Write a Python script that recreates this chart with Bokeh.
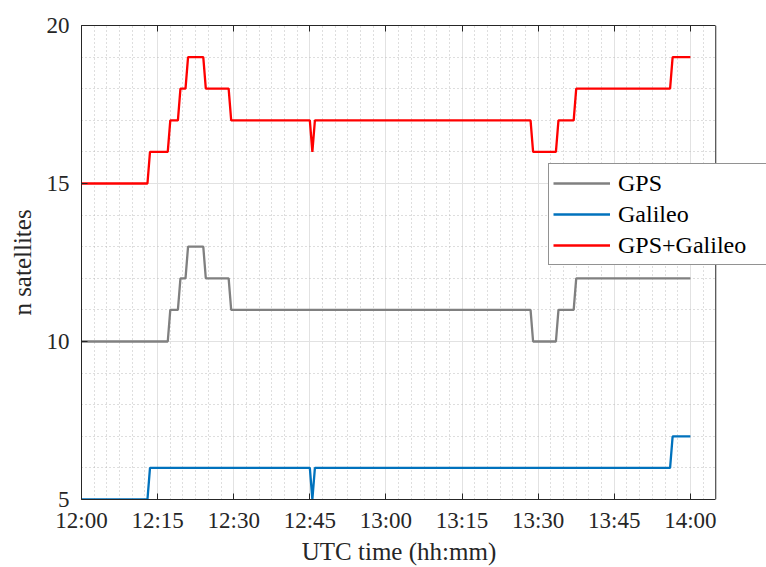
import numpy as np
from bokeh.plotting import figure
from bokeh.models import (Range1d, FixedTicker, LinearAxis, Legend,
                          LegendItem, Span, BoxAnnotation)
from bokeh.embed import file_html
from bokeh.resources import INLINE

# ---- data: time in minutes after 12:00 UTC, number of satellites ----
gps_t = [0, 17.0, 17.5, 19.0, 19.5, 20.5, 21.0, 24.0, 24.5, 29.0, 29.5,
         88.5, 89.0, 93.5, 94.0, 97.0, 97.5, 120]
gps_n = [10, 10, 11, 11, 12, 12, 13, 13, 12, 12, 11,
         11, 10, 10, 11, 11, 12, 12]

gal_t = [0, 13.0, 13.5, 45.0, 45.5, 46.0, 116.0, 116.5, 120]
gal_n = [5, 5, 6, 6, 5, 6, 6, 7, 7]

comb_t = [0, 13.0, 13.5, 17.0, 17.5, 19.0, 19.5, 20.5, 21.0, 24.0, 24.5,
          29.0, 29.5, 45.0, 45.5, 46.0, 88.5, 89.0, 93.5, 94.0, 97.0, 97.5,
          116.0, 116.5, 120]
comb_n = [15, 15, 16, 16, 17, 17, 18, 18, 19, 19, 18,
          18, 17, 17, 16, 17, 17, 16, 16, 17, 17, 18,
          18, 19, 19]

series_names = ["GPS", "Galileo", "GPS+Galileo"]

x_major = [0, 15, 30, 45, 60, 75, 90, 105, 120]
x_labels = ["12:00", "12:15", "12:30", "12:45", "13:00", "13:15", "13:30",
            "13:45", "14:00"]
x_minor = [2.5, 5, 7.5, 10, 12.5, 17.5, 20, 22.5, 25, 27.5, 32.5, 35, 37.5,
           40, 42.5, 47.5, 50, 52.5, 55, 57.5, 62.5, 65, 67.5, 70, 72.5,
           77.5, 80, 82.5, 85, 87.5, 92.5, 95, 97.5, 100, 102.5, 107.5, 110,
           112.5, 115, 117.5, 122.5]
y_major = [5, 10, 15, 20]
y_minor = [6, 7, 8, 9, 11, 12, 13, 14, 16, 17, 18, 19]

x_title = "UTC time (hh:mm)"
y_title = "n satellites"

x_axis_end = 125      # right edge of the axes box (minutes)
x_view_end = 135      # canvas extends past the box so the legend can overhang

FONT = "Liberation Serif"
TXT = "#262626"
NBSP = "\u00a0"

p = figure(width=766, height=567, x_range=Range1d(0, x_view_end),
           y_range=Range1d(5, 20), output_backend="svg",
           toolbar_location=None, min_border_left=81, min_border_right=0,
           min_border_top=25, min_border_bottom=68)
p.background_fill_color = "white"
p.border_fill_color = "white"
p.outline_line_color = None

xt = FixedTicker(ticks=x_major, minor_ticks=x_minor)
yt = FixedTicker(ticks=y_major, minor_ticks=y_minor)
p.xaxis.ticker = xt
p.yaxis.ticker = yt
p.xgrid.ticker = xt
p.ygrid.ticker = yt
p.xaxis.major_label_overrides = {t: s for t, s in zip(x_major, x_labels)}
p.xaxis.bounds = (0, x_axis_end)

for ax in (p.xaxis, p.yaxis):
    ax.axis_line_color = TXT
    ax.major_tick_line_color = TXT
    ax.major_tick_in = 6
    ax.major_tick_out = 0
    ax.minor_tick_line_color = None
    ax.major_label_text_font = FONT
    ax.major_label_text_font_size = "23px"
    ax.major_label_text_color = TXT
    ax.axis_label_text_font = FONT
    ax.axis_label_text_font_size = "25px"
    ax.axis_label_text_font_style = "normal"
    ax.axis_label_text_color = TXT
p.xaxis.major_label_standoff = 4
p.yaxis.major_label_standoff = 8
# trailing no-break spaces re-centre the title under the axes box
p.xaxis.axis_label = x_title + NBSP * 8
p.xaxis.axis_label_standoff = 2
p.yaxis.axis_label = y_title
p.yaxis.axis_label_standoff = 8

# box ticks on top
top = LinearAxis(ticker=xt, bounds=(0, x_axis_end), major_tick_in=6,
                 major_tick_out=0, minor_tick_line_color=None,
                 axis_line_color=TXT, major_tick_line_color=TXT,
                 major_label_text_color=None,
                 major_label_text_font_size="1px", major_label_standoff=0)
p.add_layout(top, "above")

for g in (p.xgrid, p.ygrid):
    g.grid_line_color = "#E2E2E2"
    g.grid_line_width = 1
    g.minor_grid_line_color = "#BDBDBD"
    g.minor_grid_line_dash = "1 3"
    g.minor_grid_line_width = 1

r1 = p.line(gps_t, gps_n, line_color="#808080", line_width=2.3)
r2 = p.line(gal_t, gal_n, line_color="#0072BD", line_width=2.3)
r3 = p.line(comb_t, comb_n, line_color="#FF0000", line_width=2.3)

# blank area right of the axes box, and the box's right edge
p.add_layout(BoxAnnotation(left=x_axis_end, fill_color="white",
                           fill_alpha=1, line_color=None))
p.add_layout(Span(location=x_axis_end, dimension="height", line_color=TXT,
                  line_width=1))

legend = Legend(items=[LegendItem(label=series_names[0], renderers=[r1]),
                       LegendItem(label=series_names[1], renderers=[r2]),
                       LegendItem(label=series_names[2], renderers=[r3])],
                location=(467, 234))
legend.label_text_font = FONT
legend.label_text_font_size = "24px"
legend.label_text_color = "black"
legend.glyph_width = 57
legend.glyph_height = 30
legend.label_height = 30
legend.label_standoff = 8
legend.label_width = 200
legend.spacing = 1
legend.padding = 4
legend.margin = 0
legend.border_line_color = TXT
legend.border_line_width = 1
legend.background_fill_color = "white"
legend.background_fill_alpha = 1
p.add_layout(legend)

open("out.html", "w").write(file_html(p, INLINE))
